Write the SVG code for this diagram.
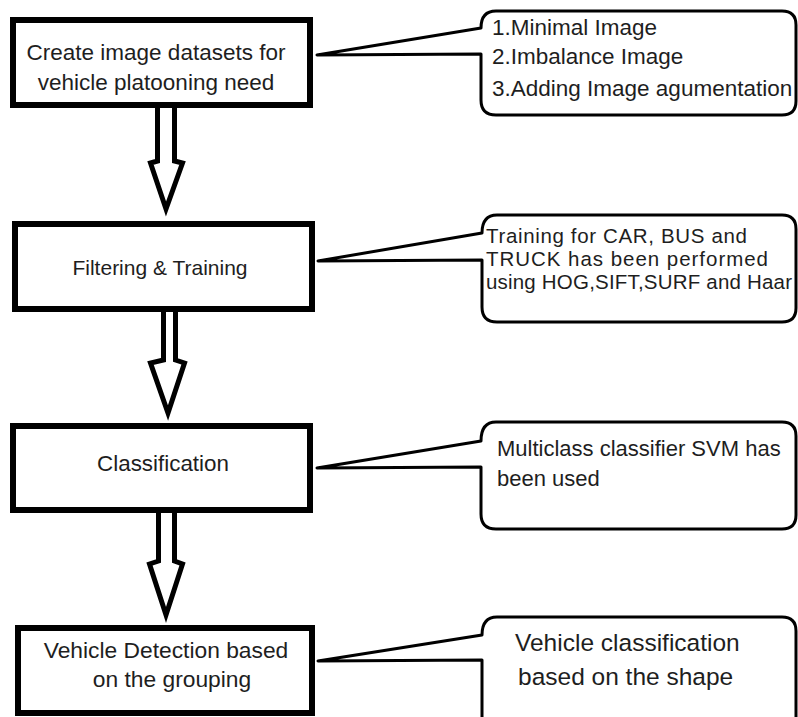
<svg xmlns="http://www.w3.org/2000/svg" width="798" height="717" viewBox="0 0 798 717">
  <style>
    .box { fill: #fff; stroke: #000; stroke-width: 6; }
    .arrow { fill: #fff; stroke: #000; stroke-width: 5; stroke-linejoin: miter; }
    .callout { fill: #fff; stroke: #000; stroke-width: 3; stroke-linejoin: round; }
    text { font-family: "Liberation Sans", Arial, sans-serif; fill: #1e1e1e; }
    .c { text-anchor: middle; }
  </style>
  <rect width="798" height="717" fill="#fff"/>

  <g id="connectors">
    <path class="arrow" d="M157.5,108 L157.5,161 L150.5,163 L166,209 L182.5,163 L174.5,161 L174.5,108"/>
    <path class="arrow" d="M163.5,312 L163.5,360 L150.5,363 L168,413 L184.5,363 L175.5,360 L175.5,312"/>
    <path class="arrow" d="M158.5,513 L158.5,561 L149.5,564 L166,615 L182.5,564 L174.5,561 L174.5,513"/>
  </g>

  <g id="node1">
    <rect class="box" x="13" y="20" width="297" height="85"/>
    <text class="c" x="156" y="60" font-size="22.5">Create image datasets for</text>
    <text class="c" x="156" y="90" font-size="22.5">vehicle platooning need</text>
  </g>
  <g id="callout1">
    <path class="callout" d="M317,55 L481,28 Q481,11 496,11 L782,11 Q796,11 796,25 L796,101 Q796,115 782,115 L496,115 Q481,115 481,100 L481,54 Z"/>
    <text x="492" y="35" font-size="22.5">1.Minimal Image</text>
    <text x="492" y="64" font-size="22.5">2.Imbalance Image</text>
    <text x="492" y="96" font-size="22.5">3.Adding Image agumentation</text>
  </g>

  <g id="node2">
    <rect class="box" x="15" y="224" width="297" height="85"/>
    <text class="c" x="160" y="275" font-size="21">Filtering &amp; Training</text>
  </g>
  <g id="callout2">
    <path class="callout" d="M318,261 L482,233 Q482,215 497,215 L782,215 Q796,215 796,229 L796,308 Q796,322 782,322 L497,322 Q482,322 482,307 L482,260 Z"/>
    <text x="486" y="243" font-size="20.5" textLength="261" lengthAdjust="spacing">Training for CAR, BUS and</text>
    <text x="486" y="266" font-size="20.5" textLength="282" lengthAdjust="spacing">TRUCK has been performed</text>
    <text x="486" y="289" font-size="20.5" textLength="306" lengthAdjust="spacing">using HOG,SIFT,SURF and Haar</text>
  </g>

  <g id="node3">
    <rect class="box" x="13" y="426" width="297" height="84"/>
    <text class="c" x="163" y="471" font-size="22.4">Classification</text>
  </g>
  <g id="callout3">
    <path class="callout" d="M317,468 L481,441 Q481,422 496,422 L782,422 Q796,422 796,436 L796,515 Q796,529 782,529 L496,529 Q481,529 481,514 L481,467 Z"/>
    <text x="497" y="456" font-size="22">Multiclass classifier SVM has</text>
    <text x="497" y="486" font-size="22">been used</text>
  </g>

  <g id="node4">
    <rect class="box" x="18" y="628" width="294" height="85"/>
    <text class="c" x="166" y="658" font-size="22.8">Vehicle Detection based</text>
    <text class="c" x="172" y="687" font-size="22.8">on the grouping</text>
  </g>
  <g id="callout4">
    <path class="callout" d="M318,661 L482,635 Q482,617 497,617 L782,617 Q796,617 796,631 L796,740 L482,740 L482,660 Z"/>
    <text x="515" y="651" font-size="24.5">Vehicle classification</text>
    <text x="518" y="685" font-size="24.5">based on the shape</text>
  </g>
</svg>
